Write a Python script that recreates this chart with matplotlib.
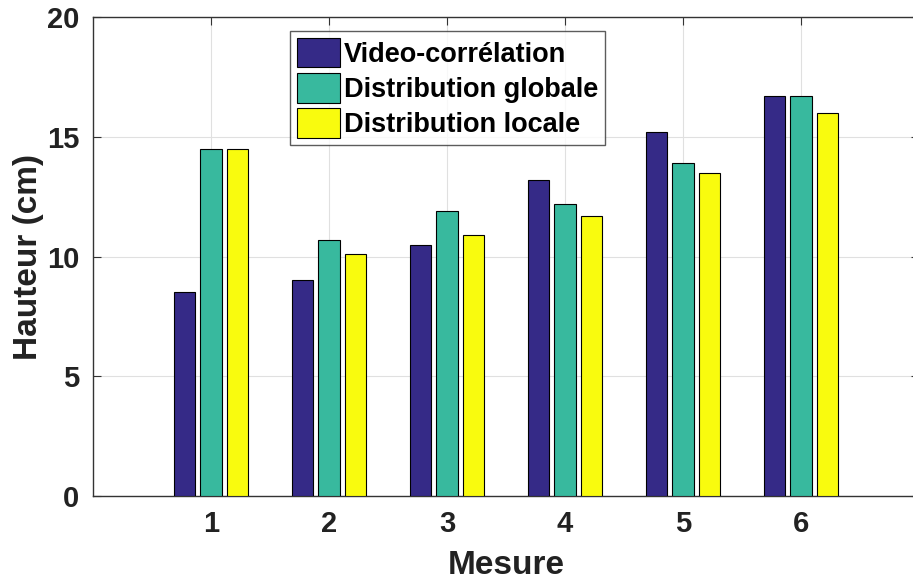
import numpy as np
import matplotlib.pyplot as plt

plt.rcParams['font.family'] = ['Liberation Sans', 'DejaVu Sans']
plt.rcParams['font.weight'] = 'bold'

mesures = [1, 2, 3, 4, 5, 6]
video = [8.5, 9.0, 10.5, 13.2, 15.2, 16.7]
globale = [14.5, 10.7, 11.9, 12.2, 13.9, 16.7]
locale = [14.5, 10.1, 10.9, 11.7, 13.5, 16.0]

labels = ['Video-corrélation', 'Distribution globale', 'Distribution locale']
colors = ['#352a87', '#38b99e', '#f9fb0e']

fig = plt.figure(figsize=(9.13, 5.82), dpi=100)
ax = fig.add_axes([93 / 913, 86 / 582, 826 / 913, 479 / 582])

x = np.array(mesures)
w = 0.18
off = 0.225
for i, (vals, lab, c) in enumerate(zip([video, globale, locale], labels, colors)):
    ax.bar(x + (i - 1) * off, vals, width=w, color=c, edgecolor='black',
           linewidth=0.8, label=lab, zorder=3)

ax.set_xlim(0, 7)
ax.set_ylim(0, 20)
ax.set_xticks(mesures)
ax.set_yticks([0, 5, 10, 15, 20])
ax.grid(True, color='#e0e0e0', linewidth=0.8, zorder=0)
ax.tick_params(direction='in', labelsize=21, length=6, top=True, right=True,
               color='#333333', pad=10)
for lbl in ax.get_xticklabels() + ax.get_yticklabels():
    lbl.set_fontweight('bold')
    lbl.set_color('#222222')
for s in ax.spines.values():
    s.set_color('#333333')
    s.set_linewidth(1.0)

ax.set_xlabel('Mesure', fontsize=24, fontweight='bold', color='#222222', labelpad=9)
ax.set_ylabel('Hauteur (cm)', fontsize=24, fontweight='bold', color='#222222', labelpad=2)

leg = ax.legend(loc='upper left', bbox_to_anchor=(197 / 826, 1 - 14 / 479),
                fontsize=19.5, frameon=True, fancybox=False, edgecolor='#333333',
                handlelength=1.6, handleheight=1.3, handletextpad=0.15,
                labelspacing=0.2, borderpad=0.25, borderaxespad=0)
leg.get_frame().set_linewidth(1.0)
for t in leg.get_texts():
    t.set_fontweight('bold')
    t.set_color('black')

fig.savefig('out.png', dpi=100)
